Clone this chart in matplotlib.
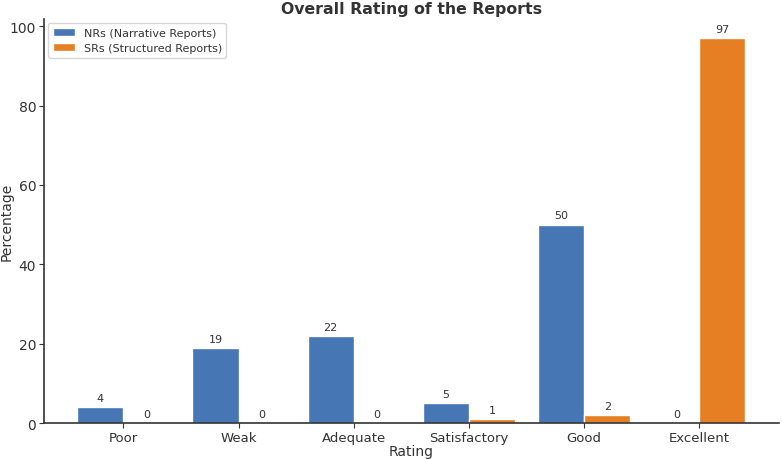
import matplotlib.pyplot as plt
import numpy as np

ratings = ["Poor", "Weak", "Adequate", "Satisfactory", "Good", "Excellent"]
nrs = [4, 19, 22, 5, 50, 0]
srs = [0, 0, 0, 1, 2, 97]

plt.rcParams['text.color'] = '#333333'
plt.rcParams['axes.labelcolor'] = '#333333'
plt.rcParams['xtick.color'] = '#333333'
plt.rcParams['ytick.color'] = '#333333'

fig, ax = plt.subplots(figsize=(7.82, 4.6), dpi=100)
fig.subplots_adjust(left=0.056, right=0.996, bottom=0.078, top=0.957)
x = np.arange(len(ratings))
w = 0.4

b1 = ax.bar(x - w / 2, nrs, w, color='#4676b3', edgecolor='white', linewidth=1,
            label="NRs (Narrative Reports)")
b2 = ax.bar(x + w / 2, srs, w, color='#e67f24', edgecolor='white', linewidth=1,
            label="SRs (Structured Reports)")

for bars in (b1, b2):
    for b in bars:
        ax.annotate(f"{int(b.get_height())}",
                    (b.get_x() + b.get_width() / 2, b.get_height()),
                    xytext=(0, 3), textcoords="offset points",
                    ha='center', va='bottom', fontsize=8)

ax.set_xticks(x)
ax.set_xticklabels(ratings, fontsize=9.5)
ax.tick_params(axis='y', labelsize=10)
ax.tick_params(axis='both', length=3.5, pad=2)
ax.set_xlabel("Rating", fontsize=10, labelpad=0)
ax.set_ylabel("Percentage", fontsize=10)
ax.yaxis.set_label_coords(-0.041, 0.5)
ax.set_title("Overall Rating of the Reports", fontsize=11.3, fontweight='bold', pad=4)

ax.spines['top'].set_visible(False)
ax.spines['right'].set_visible(False)
for s in ('left', 'bottom'):
    ax.spines[s].set_color('#333333')
    ax.spines[s].set_linewidth(1.2)

ax.legend(loc='upper left', fontsize=8, borderaxespad=0.4)

fig.savefig("out.png")
